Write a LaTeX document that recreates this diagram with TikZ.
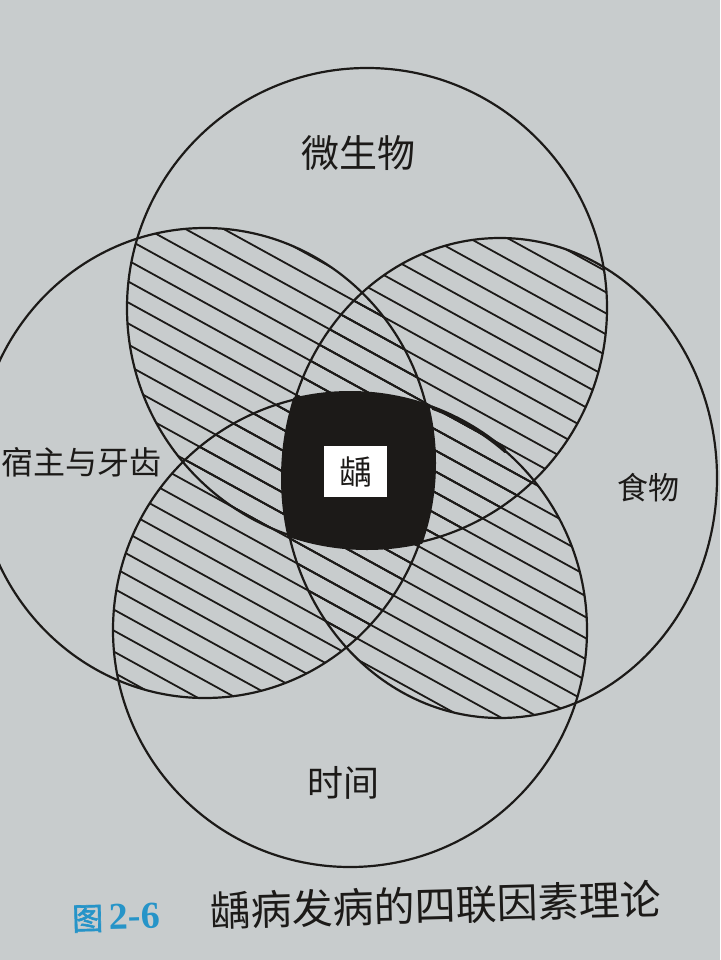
\documentclass[tikz,border=0pt]{standalone}
\usepackage{fontspec}
\newfontfamily\cjk{Noto Sans CJK SC}
\newfontfamily\cjkbold[FakeBold=2]{Noto Sans CJK SC}
\newfontfamily\numbold{Liberation Serif}
\definecolor{paper}{RGB}{200,204,205}
\definecolor{ink}{RGB}{28,26,24}
\definecolor{capblue}{RGB}{38,148,200}
\newcommand\hatchlines{\foreach \c in {-440,-419,...,980} {\draw[hatch] (0,\c) -- (720,\c+396);}}
\begin{document}
\begin{tikzpicture}[x=1pt,y=-1pt,
  hatch/.style={draw=ink, line width=1.8pt},
  ring/.style={draw=ink, line width=2.2pt},
  lab/.style={text=ink, inner sep=0pt}]
\useasboundingbox (0,0) rectangle (720,960);
\fill[paper] (0,0) rectangle (720,960);
\coordinate (T) at (367,308);
\coordinate (L) at (205,463);
\coordinate (R) at (500,478);
\coordinate (B) at (350,630);
% pairwise intersections hatched
\begin{scope}\clip (T) circle[radius=240pt]; \clip (L) ellipse[x radius=228pt, y radius=235pt]; \hatchlines \end{scope}
\begin{scope}\clip (T) circle[radius=240pt]; \clip (R) ellipse[x radius=217pt, y radius=240pt]; \hatchlines \end{scope}
\begin{scope}\clip (T) circle[radius=240pt]; \clip (B) circle[radius=237pt]; \hatchlines \end{scope}
\begin{scope}\clip (L) ellipse[x radius=228pt, y radius=235pt]; \clip (R) ellipse[x radius=217pt, y radius=240pt]; \hatchlines \end{scope}
\begin{scope}\clip (L) ellipse[x radius=228pt, y radius=235pt]; \clip (B) circle[radius=237pt]; \hatchlines \end{scope}
\begin{scope}\clip (R) ellipse[x radius=217pt, y radius=240pt]; \clip (B) circle[radius=237pt]; \hatchlines \end{scope}
% intersection of all four in black
\begin{scope}
\clip (T) circle[radius=242pt]; \clip (L) ellipse[x radius=231pt, y radius=237pt];
\clip (R) ellipse[x radius=219pt, y radius=242pt]; \clip (B) circle[radius=239pt];
\fill[ink] (0,0) rectangle (720,960);
\end{scope}
% outlines
\draw[ring] (T) circle[radius=240pt];
\draw[ring] (L) ellipse[x radius=228pt, y radius=235pt];
\draw[ring] (R) ellipse[x radius=217pt, y radius=240pt];
\draw[ring] (B) circle[radius=237pt];
\begin{scope}
\clip (432,392) rectangle (506,452);
\draw[draw=ink, line width=4pt] (B) circle[radius=237pt];
\end{scope}
% labels
\node[lab, font=\cjk\fontsize{38}{38}\selectfont] (micro) at (358,153) {微生物};
\node[lab, anchor=west, font=\cjk\fontsize{32}{32}\selectfont] (host) at (1,462) {宿主与牙齿};
\node[lab, font=\cjk\fontsize{31}{31}\selectfont] (food) at (648,488) {食物};
\node[lab, font=\cjk\fontsize{36}{36}\selectfont] (time) at (343,783) {时间};
\node[fill=white, minimum width=63pt, minimum height=51pt, inner sep=0pt, text=ink,
  font=\cjk\fontsize{33}{33}\selectfont] (caries) at (355.5,471.5) {龋};
% caption
\node[lab, anchor=west, text=capblue, rotate=1.5] (fignum) at (72,919)
  {{\cjkbold\fontsize{31}{31}\selectfont 图}\hspace{6pt}{\numbold\bfseries\fontsize{38}{38}\selectfont 2-6}};
\node[lab, anchor=west, rotate=1.5, font=\cjk\fontsize{41}{41}\selectfont] (captext) at (210,911) {龋病发病的四联因素理论};
\end{tikzpicture}
\end{document}
